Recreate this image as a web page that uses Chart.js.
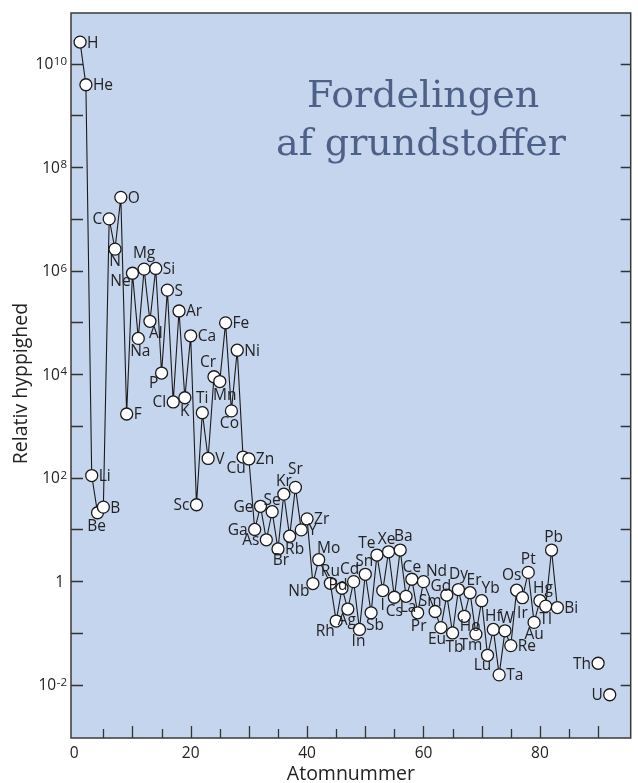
<!DOCTYPE html>
<html>
<head>
<meta charset="utf-8">
<script src="https://cdn.jsdelivr.net/npm/chart.js@4"></script>
<style>
  html, body { margin: 0; padding: 0; background: #fff; }
  canvas { display: block; }
</style>
</head>
<body>
<canvas id="chart" width="638" height="783"></canvas>
<script>
// element symbols, atomic numbers and relative abundance
const symbols = ['H','He','Li','Be','B','C','N','O','F','Ne','Na','Mg','Al','Si','P','S','Cl','Ar','K','Ca',
    'Sc','Ti','V','Cr','Mn','Fe','Co','Ni','Cu','Zn','Ga','Ge','As','Se','Br','Kr','Rb','Sr','Y','Zr',
    'Nb','Mo','Ru','Rh','Pd','Ag','Cd','In','Sn','Sb','Te','I','Xe','Cs','Ba','La','Ce','Pr','Nd',
    'Sm','Eu','Gd','Tb','Dy','Ho','Er','Tm','Yb','Lu','Hf','Ta','W','Re','Os','Ir','Pt','Au','Hg','Tl','Pb','Bi'];
const atomicNumbers = [1,2,3,4,5,6,7,8,9,10,11,12,13,14,15,16,17,18,19,20,
    21,22,23,24,25,26,27,28,29,30,31,32,33,34,35,36,37,38,39,40,
    41,42,44,45,46,47,48,49,50,51,52,53,54,55,56,57,58,59,60,
    62,63,64,65,66,67,68,69,70,71,72,73,74,75,76,77,78,79,80,81,82,83];
const abundances = [2.6e10,3.9e9,110,21,27,1.0e7,2.6e6,2.6e7,1700,8.9e5,4.9e4,1.07e6,1.05e5,1.1e6,1.05e4,4.2e5,2900,1.66e5,3500,5.5e4,
    30,1800,235,8900,7200,9.8e4,1950,2.9e4,250,230,10,28,6.3,22,4.2,48,7.4,65,9.8,16,
    0.9,2.6,0.91,0.17,0.73,0.29,0.98,0.117,1.36,0.245,3.2,0.66,3.7,0.49,4.0,0.51,1.09,0.245,0.98,
    0.26,0.127,0.54,0.1,0.69,0.21,0.6,0.095,0.42,0.037,0.117,0.0155,0.11,0.057,0.67,0.48,1.48,0.16,0.42,0.33,4.0,0.31];

// Th and U, plotted without a connecting line
const heavySymbols = ['Th','U'];
const heavyNumbers = [90, 92];
const heavyAbundances = [0.026, 0.0064];

// axis ticks
const yTickExponents = [-2,-1,0,1,2,3,4,5,6,7,8,9,10];
const yLabelExponents = [-2,0,2,4,6,8,10];
const xMinorTicks = [5,15,25,35,45,55,65,75,85];
const xMajorTicks = [10,20,30,40,50,60,70,80,90];
const xTickLabels = [0,20,40,60,80];

const titleLines = ['Fordelingen', 'af grundstoffer'];
const xTitle = 'Atomnummer';
const yTitle = 'Relativ hyppighed';

// where each symbol sits next to its point: 'r' right, 'l' left, or [dx, dy] of the label centre
const labelPos = {
    H:'r', He:'r', Li:'r', Be:[-1,14], B:'r', C:'l', N:[0,12], O:'r', F:'r', Ne:[-12,8],
    Na:[2,13], Mg:[0,-16], Al:[6,12], Si:'r', P:[-8,11], S:'r', Cl:'l', Ar:'r', K:[0,14], Ca:'r',
    Sc:'l', Ti:[0,-14], V:'r', Cr:[-6,-14], Mn:[5,14], Fe:'r', Co:[-2,13], Ni:'r', Cu:[-7,12], Zn:'r',
    Ga:'l', Ge:'l', As:'l', Se:[0,-11], Br:[3,12], Kr:[0,-13], Rb:[5,13], Sr:[0,-18], Y:'r', Zr:'r',
    Nb:[-14,8], Mo:[10,-11], Ru:[0,-12], Rh:[-11,11], Pd:[-4,-3], Ag:[-1,12], Cd:[-4,-12], In:[-1,12],
    Sn:[-1,-13], Sb:[4,13], Te:[-10,-11], I:[0,15], Xe:[-2,-12], Cs:[0,14], Ba:[3,-13], La:[2,11],
    Ce:[0,-12], Pr:[1,14], Nd:[13,-10], Sm:[-5,-10], Eu:[-4,12], Gd:[-6,-8], Tb:[2,15], Dy:[0,-15],
    Ho:[6,10], Er:[4,-12], Tm:[-5,11], Yb:[9,-12], Lu:[-5,10], Hf:[0,-13], Ta:'r', W:[2,-12], Re:'r',
    Os:[-5,-15], Ir:[0,16], Pt:[0,-13], Au:[0,12], Hg:[3,-12], Tl:[0,13], Pb:[2,-12], Bi:'r',
    Th:'l', U:'l'
};

const mainPoints = atomicNumbers.map((z, i) => ({x: z, y: abundances[i]}));
const heavyPoints = heavyNumbers.map((z, i) => ({x: z, y: heavyAbundances[i]}));

const SANS = '"Open Sans", "Noto Sans", sans-serif';
const INK = '#222222';

const framePlugin = {
    id: 'frame',
    beforeDraw(chart) {
        const {ctx, chartArea: a} = chart;
        ctx.save();
        ctx.fillStyle = '#ffffff';
        ctx.fillRect(0, 0, chart.width, chart.height);
        ctx.fillStyle = '#c6d5ee';
        ctx.fillRect(a.left, a.top, a.right - a.left, a.bottom - a.top);
        ctx.restore();
    },
    beforeDatasetsDraw(chart) {
        const {ctx, chartArea: a, scales: {x, y}} = chart;
        ctx.save();
        // title
        ctx.fillStyle = '#4d6087';
        ctx.font = '38px "DejaVu Serif", serif';
        ctx.textAlign = 'center';
        ctx.textBaseline = 'alphabetic';
        ctx.fillText(titleLines[0], 423, 107);
        ctx.fillText(titleLines[1], 421, 155);

        ctx.strokeStyle = '#333';
        ctx.lineWidth = 1.3;
        ctx.beginPath();
        yTickExponents.forEach(e => {
            const py = Math.round(y.getPixelForValue(Math.pow(10, e))) + 0.5;
            ctx.moveTo(a.left, py); ctx.lineTo(a.left + 12, py);
            ctx.moveTo(a.right, py); ctx.lineTo(a.right - 10, py);
        });
        xMajorTicks.forEach(v => {
            const px = Math.round(x.getPixelForValue(v)) + 0.5;
            ctx.moveTo(px, a.bottom); ctx.lineTo(px, a.bottom - 12);
        });
        xMinorTicks.forEach(v => {
            const px = Math.round(x.getPixelForValue(v)) + 0.5;
            ctx.moveTo(px, a.bottom); ctx.lineTo(px, a.bottom - 9);
        });
        ctx.stroke();

        // frame
        ctx.lineWidth = 1.5;
        ctx.strokeStyle = '#3a3a3a';
        ctx.strokeRect(a.left, a.top, a.right - a.left, a.bottom - a.top);

        // y tick labels with superscript exponents
        ctx.fillStyle = INK;
        ctx.textAlign = 'right';
        yLabelExponents.forEach(e => {
            const py = y.getPixelForValue(Math.pow(10, e));
            const right = a.left - 4;
            if (e === 0) {
                ctx.font = '15.5px ' + SANS;
                ctx.fillText('1', right - 3, py + 5.5);
                return;
            }
            const exp = e < 0 ? '-' + (-e) : String(e);
            ctx.font = '11.5px ' + SANS;
            const w = ctx.measureText(exp).width;
            ctx.fillText(exp, right, py + 1);
            ctx.font = '15.5px ' + SANS;
            ctx.fillText('10', right - w - 0.5, py + 5.5);
        });

        // x tick labels
        ctx.textAlign = 'center';
        ctx.font = '15.5px ' + SANS;
        xTickLabels.forEach(v => {
            ctx.fillText(String(v), x.getPixelForValue(v), a.bottom + 19.5);
        });

        // axis titles
        ctx.font = '19.5px ' + SANS;
        ctx.fillText(xTitle, (a.left + a.right) / 2, 780);
        ctx.save();
        ctx.translate(27, (a.top + a.bottom) / 2 + 8);
        ctx.rotate(-Math.PI / 2);
        ctx.fillText(yTitle, 0, 0);
        ctx.restore();
        ctx.restore();
    },
    afterDatasetsDraw(chart) {
        const {ctx} = chart;
        ctx.save();
        ctx.fillStyle = INK;
        ctx.font = '15.5px ' + SANS;
        ctx.textBaseline = 'middle';
        const put = (sym, el) => {
            const p = labelPos[sym];
            if (p === 'r') {
                ctx.textAlign = 'left';
                ctx.fillText(sym, el.x + 7, el.y + 1);
            } else if (p === 'l') {
                ctx.textAlign = 'right';
                ctx.fillText(sym, el.x - 7, el.y + 1);
            } else {
                ctx.textAlign = 'center';
                ctx.fillText(sym, el.x + p[0], el.y + p[1]);
            }
        };
        chart.getDatasetMeta(0).data.forEach((el, i) => put(symbols[i], el));
        chart.getDatasetMeta(1).data.forEach((el, i) => put(heavySymbols[i], el));
        ctx.restore();
    }
};

const pointStyle = {
    pointRadius: 6,
    pointHoverRadius: 6,
    pointBackgroundColor: '#ffffff',
    pointBorderColor: '#1a1a1a',
    pointBorderWidth: 1.3
};

new Chart(document.getElementById('chart'), {
    type: 'scatter',
    data: {
        datasets: [
            Object.assign({data: mainPoints, showLine: true, borderColor: '#1a1a1a', borderWidth: 1.1, tension: 0}, pointStyle),
            Object.assign({data: heavyPoints, showLine: false}, pointStyle)
        ]
    },
    options: {
        responsive: false,
        animation: false,
        layout: {padding: {left: 71, top: 13, right: 1, bottom: 45}},
        scales: {
            x: {type: 'linear', min: -0.56, max: 95.6, display: false},
            y: {type: 'logarithmic', min: 9.35e-4, max: 9.48e10, display: false}
        },
        plugins: {
            legend: {display: false},
            tooltip: {enabled: false}
        }
    },
    plugins: [framePlugin]
});
</script>
</body>
</html>
